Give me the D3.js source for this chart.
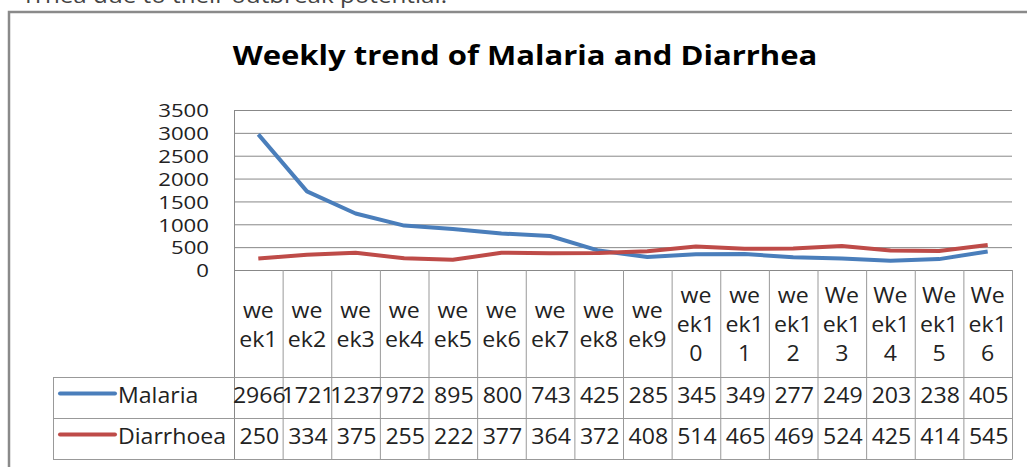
<!DOCTYPE html>
<html>
<head>
<meta charset="utf-8">
<script src="https://cdn.jsdelivr.net/npm/d3@7"></script>
<style>
  body { margin: 0; background: #fff; overflow: hidden; }
  text { font-family: "Open Sans", sans-serif; }
</style>
</head>
<body>
<div id="chart"></div>
<script>
const weeks = ["week1", "week2", "week3", "week4", "week5", "week6", "week7", "week8",
    "week9", "week10", "week11", "week12", "Week13", "Week14", "Week15", "Week16"];
const malaria = [2966, 1721, 1237, 972, 895, 800, 743, 425, 285, 345, 349, 277, 249, 203, 238, 405];
const diarrhoea = [250, 334, 375, 255, 222, 377, 364, 372, 408, 514, 465, 469, 524, 425, 414, 545];
const yTicks = [0, 500, 1000, 1500, 2000, 2500, 3000, 3500];
const seriesNames = ["Malaria", "Diarrhoea"];
const seriesColors = ["#4a7ebb", "#be4b48"];

function main() {
    const W = 1027, H = 467;
    const sx = 1.2;   // tick labels are stretched sideways in the picture
    const tsx = 1.1;  // table text
    const hsx = 1.15; // title

    const svg = d3.select("#chart").append("svg")
        .attr("width", W)
        .attr("height", H);

    // cut off sentence above the chart
    svg.append("text")
        .attr("transform", "translate(447,3) scale(" + tsx + ",1)")
        .attr("text-anchor", "end")
        .attr("font-size", "22px")
        .attr("fill", "#444")
        .text("rrhea due to their outbreak potential.");

    // chart frame
    svg.append("rect")
        .attr("x", 9).attr("y", 12)
        .attr("width", W).attr("height", H)
        .attr("fill", "#fff")
        .attr("stroke", "#8a8a8a")
        .attr("stroke-width", 2.5);

    svg.append("text")
        .attr("transform", "translate(525,65) scale(" + hsx + ",1)")
        .attr("text-anchor", "middle")
        .attr("font-size", "27px")
        .attr("font-weight", "bold")
        .attr("fill", "#000")
        .text("Weekly trend of Malaria and Diarrhea");

    const left = 234, right = 1012, top = 110, bottom = 270;
    const headBottom = 377, row1 = 418, row2 = 459, legendLeft = 53;

    const x = d3.scaleBand().domain(weeks).range([left, right]);
    const y = d3.scaleLinear().domain([0, 3500]).range([bottom, top]);

    // gridlines
    svg.append("g")
        .selectAll("line")
        .data(yTicks)
        .join("line")
        .attr("x1", left).attr("x2", right)
        .attr("y1", d => y(d) + 0.5).attr("y2", d => y(d) + 0.5)
        .attr("stroke", "#888")
        .attr("stroke-width", 1);

    // y axis labels
    svg.append("g")
        .selectAll("text")
        .data(yTicks)
        .join("text")
        .attr("transform", d => "translate(209," + y(d) + ") scale(" + sx + ",1)")
        .attr("text-anchor", "end")
        .attr("dominant-baseline", "central")
        .attr("font-size", "18.5px")
        .attr("fill", "#222")
        .text(d => d);

    // axis line on the left
    svg.append("line")
        .attr("x1", left + 0.5).attr("x2", left + 0.5)
        .attr("y1", top).attr("y2", row2)
        .attr("stroke", "#888");

    // data table grid
    const grid = svg.append("g").attr("stroke", "#999").attr("stroke-width", 1);
    grid.selectAll("line.col")
        .data(weeks)
        .join("line")
        .attr("class", "col")
        .attr("x1", d => x(d) + x.bandwidth() + 0.5)
        .attr("x2", d => x(d) + x.bandwidth() + 0.5)
        .attr("y1", bottom).attr("y2", row2);
    grid.selectAll("line.row")
        .data([headBottom, row1, row2])
        .join("line")
        .attr("class", "row")
        .attr("x1", legendLeft).attr("x2", right + 0.5)
        .attr("y1", d => d + 0.5).attr("y2", d => d + 0.5);
    grid.append("line")
        .attr("x1", legendLeft + 0.5).attr("x2", legendLeft + 0.5)
        .attr("y1", headBottom).attr("y2", row2);

    // header labels, wrapped the way the narrow cells wrap them
    const head = svg.append("g").selectAll("g")
        .data(weeks)
        .join("g");
    head.each(function (d) {
        const parts = [d.slice(0, 2), d.slice(2, 5)];
        if (d.length > 5) parts.push(d.slice(5));
        const cx = x(d) + x.bandwidth() / 2;
        const mid = (bottom + headBottom) / 2;
        const lh = 29;
        d3.select(this).selectAll("text")
            .data(parts)
            .join("text")
            .attr("transform", (p, i) => "translate(" + cx + "," + (mid + (i - (parts.length - 1) / 2) * lh) + ") scale(" + tsx + ",1)")
            .attr("text-anchor", "middle")
            .attr("dominant-baseline", "central")
            .attr("font-size", "21px")
            .attr("fill", "#222")
            .text(p => p);
    });

    const series = [malaria, diarrhoea];
    const rowMid = [(headBottom + row1) / 2, (row1 + row2) / 2];

    // lines
    const line = d3.line()
        .x((d, i) => x(weeks[i]) + x.bandwidth() / 2)
        .y(d => y(d));
    svg.append("g")
        .selectAll("path")
        .data(series)
        .join("path")
        .attr("fill", "none")
        .attr("stroke", (d, i) => seriesColors[i])
        .attr("stroke-width", 4)
        .attr("stroke-linejoin", "round")
        .attr("d", line);

    // legend keys, names and values
    series.forEach(function (vals, s) {
        const g = svg.append("g");
        g.append("line")
            .attr("x1", 60).attr("x2", 115)
            .attr("y1", rowMid[s] - 4).attr("y2", rowMid[s] - 4)
            .attr("stroke", seriesColors[s])
            .attr("stroke-width", 4)
            .attr("stroke-linecap", "round");
        g.append("text")
            .attr("transform", "translate(118," + (rowMid[s] - 3) + ") scale(" + tsx + ",1)")
            .attr("dominant-baseline", "central")
            .attr("font-size", "21px")
            .attr("fill", "#222")
            .text(seriesNames[s]);
        g.selectAll("text.val")
            .data(vals)
            .join("text")
            .attr("class", "val")
            .attr("transform", (v, i) => "translate(" + (x(weeks[i]) + x.bandwidth() / 2 + 1) + "," + (rowMid[s] - 3) + ") scale(" + tsx + ",1)")
            .attr("text-anchor", "middle")
            .attr("dominant-baseline", "central")
            .attr("font-size", "21px")
            .attr("fill", "#222")
            .text(v => v);
    });
}
main();
</script>
</body>
</html>
